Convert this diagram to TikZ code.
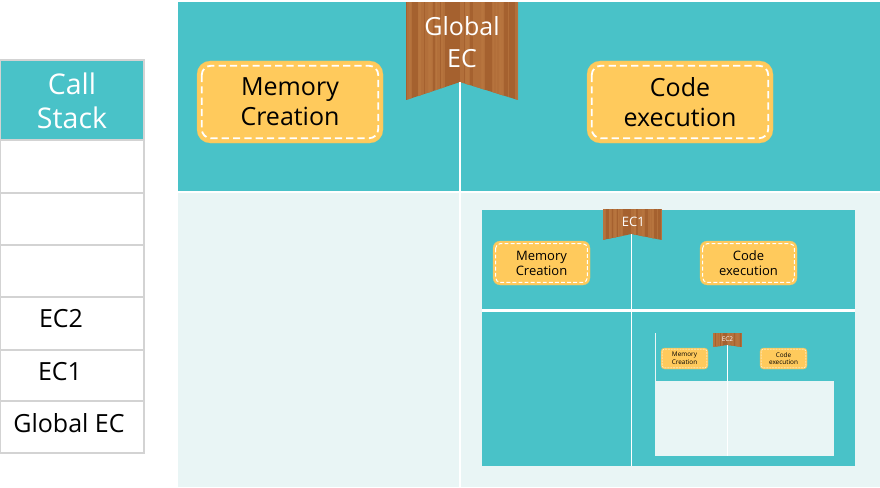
\documentclass[tikz,border=0pt]{standalone}
\usepackage{fontspec}
\setmainfont{Open Sans}
\definecolor{teal}{HTML}{49C2C8}
\definecolor{pale}{HTML}{E9F5F5}
\definecolor{gold}{HTML}{FFCA5C}
\definecolor{wooda}{HTML}{A5612F}
\definecolor{woodb}{HTML}{B8763F}
\definecolor{edge}{HTML}{D3D3D3}
\tikzset{
  x=1pt,y=-1pt,
  cell/.style={draw=edge,line width=1.2pt},
  stacktext/.style={font=\fontsize{25}{25}\selectfont,text=black,anchor=center},
}
% \woodflag{name}{x0}{x1}{y0}{notch y}{bottom y}{text}{font size}{leading}; \flagdx, \textdx = offsets from centre
\newcommand{\flagdx}{0}
\newcommand{\textdx}{0}
\newcommand{\woodflag}[9]{%
  \begin{scope}
    \clip (#2,#4) -- (#3,#4) -- (#3,#6) -- ({(#2+#3)/2+\flagdx},#5) -- (#2,#6) -- cycle;
    \fill[wooda] (#2,#4) rectangle (#3,#6);
    \pgfmathsetseed{17}
    \foreach \i in {1,...,40}{
      \pgfmathsetmacro{\xx}{#2+rnd*(#3-#2)}
      \pgfmathsetmacro{\ww}{(#3-#2)*(.01+.03*rnd)}
      \fill[woodb,opacity=.7] (\xx,#4) rectangle (\xx+\ww,#6);
    }
  \end{scope}
  \node[text=white,align=center,font=\fontsize{#8}{#9}\selectfont,inner sep=0pt] (#1) at ({(#2+#3)/2+\textdx},{(#4+#5)/2}) {#7};
  \coordinate (#1 notch) at ({(#2+#3)/2+\flagdx},#5);
}
% \dashcard{name}{x0}{x1}{y0}{y1}{text}{font size}{leading}
\newcommand{\dashcard}[8]{%
  \pgfmathsetmacro{\hh}{#5-#4}
  \pgfmathsetmacro{\rr}{.16*\hh}
  \pgfmathsetmacro{\ii}{.058*\hh}
  \pgfmathsetmacro{\lw}{.022*\hh}
  \fill[gold,draw=gold!85!teal,line width=.2pt,rounded corners=\rr pt] (#2,#4) rectangle (#3,#5);
  \draw[white,line width=\lw pt,dash pattern=on {.088*\hh pt} off {.05*\hh pt},rounded corners=.7*\rr pt] (#2+\ii,#4+\ii) rectangle (#3-\ii,#5-\ii);
  \node[text=black,align=center,font=\fontsize{#7}{#8}\selectfont,inner sep=0pt] (#1) at ({(#2+#3)/2},{(#4+#5)/2}) {#6};
}
\begin{document}
\begin{tikzpicture}
\useasboundingbox (0,0) rectangle (880,487);
\fill[white] (0,0) rectangle (880,487);
% call stack
\fill[teal] (0,60) rectangle (144,140);
\foreach \a/\b in {60/140,140/193,193/245,245/297,297/350,350/401,401/453}
  \draw[cell] (0,\a) rectangle (144,\b);
\node[text=white,align=center,font=\fontsize{28.5}{34}\selectfont,inner sep=0pt] (stack) at (72,101) {Call\\Stack};
\node[stacktext] (ec2row) at (61,319) {EC2};
\node[stacktext] (ec1row) at (60,372) {EC1};
\node[stacktext] (globalrow) at (69,423) {Global EC};
% outer panels
\fill[teal] (178,2) rectangle (880,190.5);
\fill[pale] (178,193) rectangle (880,487);
\coordinate (gbottom) at (460,487);
\dashcard{gmem}{197}{383}{61}{143}{Memory\\Creation}{25}{30}
\dashcard{gcode}{587}{773}{61}{143}{Code\\execution}{25}{30}
% inner panel
\fill[teal] (482,210) rectangle (855,466);
\draw[white,line width=2.4pt] (482,310.5) -- (855,310.5);
\coordinate (e1bottom) at (631.6,466);
\dashcard{e1mem}{493}{590}{241}{285}{Memory\\Creation}{13}{15}
\dashcard{e1code}{700}{797}{241}{285}{Code\\execution}{13}{15}
% innermost panel
\fill[pale] (656,381) rectangle (834,456);
\coordinate (e2top) at (655.6,333);
\coordinate (e2corner) at (655.6,456);
\draw[pale,line width=.7pt] (e2top) -- (e2corner);
\coordinate (e2bottom) at (727.5,456);
\dashcard{e2mem}{661}{708}{348}{369}{Memory\\Creation}{6.4}{7.6}
\dashcard{e2code}{760}{807}{348}{369}{Code\\execution}{6.4}{7.6}
% flags
\renewcommand{\flagdx}{-2}
\woodflag{gflag}{406}{518}{2}{82}{100}{Global\\EC}{25}{32}
\renewcommand{\flagdx}{-0.65}
\renewcommand{\textdx}{1}
\woodflag{e1flag}{602.5}{662}{209}{234}{240}{EC1}{13}{15}
\renewcommand{\textdx}{0}
\renewcommand{\flagdx}{0}
\woodflag{e2flag}{713}{742}{333}{345}{347}{EC2}{6.4}{7.6}
% connectors
\draw[white,line width=2pt] (gflag notch) -- (gbottom);
\draw[white,line width=1.2pt] (e1flag notch) -- (e1bottom);
\draw[white,line width=.7pt] (e2flag notch) -- (e2bottom);
\end{tikzpicture}
\end{document}
